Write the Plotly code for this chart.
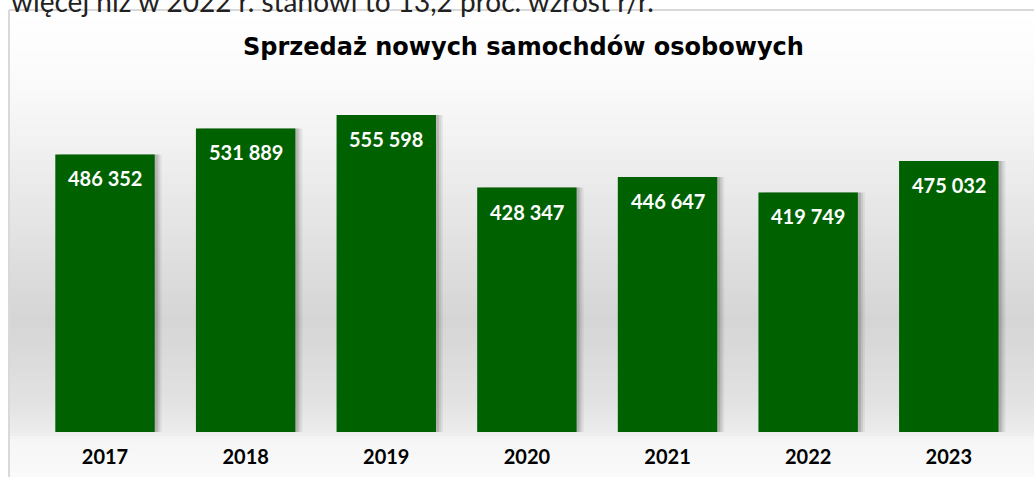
import plotly.graph_objects as go
import numpy as np

years = ["2017", "2018", "2019", "2020", "2021", "2022", "2023"]
sales = [486352, 531889, 555598, 428347, 446647, 419749, 475032]
title_text = "Sprzedaż nowych samochdów osobowych"
top_text = "więcej niż w 2022 r. stanowi to 13,2 proc. wzrost r/r."

W, H = 1034, 477
GREEN = "#006100"
BAR_W = 0.707

fig = go.Figure()

# soft shadow layers to the right of the bars
for off_px, alpha in [(7, 0.06), (5, 0.08), (3, 0.12)]:
    fig.add_trace(go.Bar(
        x=years, y=sales, width=BAR_W, offset=-BAR_W / 2 + off_px / 140.6,
        marker=dict(color=f"rgba(0,0,0,{alpha})", line=dict(width=0)),
        hoverinfo="skip", showlegend=False,
    ))

fig.add_trace(go.Bar(
    x=years, y=sales, width=BAR_W, offset=-BAR_W / 2,
    marker=dict(color=GREEN, line=dict(width=0)),
    showlegend=False,
))

annotations = []
for i, v in enumerate(sales):
    annotations.append(dict(
        x=i, y=v, xref="x", yref="y", yanchor="top", yshift=-10,
        text=f"{v:,}".replace(",", " "), showarrow=False,
        font=dict(family="Lato", size=20, color="white", weight="bold"),
    ))

annotations.append(dict(
    x=523 / W, y=1 - 47 / H, xref="paper", yref="paper",
    xanchor="center", yanchor="middle", text=f"<b>{title_text}</b>",
    showarrow=False, font=dict(family="DejaVu Sans", size=24, color="black"),
))
annotations.append(dict(
    x=9 / W, y=1 - 20 / H, xref="paper", yref="paper",
    xanchor="left", yanchor="bottom", text=top_text,
    showarrow=False, font=dict(family="Lato", size=28, color="#222222"),
))

# background gradient of the chart box
stops_y = [10, 60, 120, 200, 320, 400, 432, 440, 477]
stops_g = [255, 252, 245, 232, 213, 226, 236, 246, 250]
shapes = []
step = 3
for yy in range(10, H, step):
    g = int(round(np.interp(yy + step / 2, stops_y, stops_g)))
    shapes.append(dict(
        type="rect", xref="paper", yref="paper", layer="below",
        x0=9 / W, x1=1.0, y0=1 - (yy + step) / H, y1=1 - yy / H,
        fillcolor=f"rgb({g},{g},{g})", line=dict(width=0),
    ))
shapes.append(dict(type="line", xref="paper", yref="paper", layer="below",
                   x0=9 / W, x1=9 / W, y0=0, y1=1 - 10 / H,
                   line=dict(color="#d9d9d9", width=2)))
shapes.append(dict(type="line", xref="paper", yref="paper", layer="below",
                   x0=9 / W, x1=1.0, y0=1 - 10 / H, y1=1 - 10 / H,
                   line=dict(color="#d9d9d9", width=2)))

fig.update_layout(
    width=W, height=H,
    margin=dict(l=0, r=0, t=0, b=0, autoexpand=False),
    paper_bgcolor="white", plot_bgcolor="rgba(0,0,0,0)",
    barmode="overlay",
    xaxis=dict(type="category", domain=[34.7 / W, 1019.1 / W],
               range=[-0.5, len(years) - 0.5], autorange=False,
               showgrid=False, zeroline=False, showline=False, ticks="",
               ticklabelstandoff=11, automargin=False,
               tickfont=dict(family="Lato", size=20, color="black", weight="bold")),
    yaxis=dict(domain=[1 - 432 / H, 1 - 89.6 / H], range=[0, 600000],
               autorange=False, visible=False, showgrid=False, automargin=False),
    annotations=annotations,
    shapes=shapes,
)

fig.write_html("out.html", config={"displayModeBar": False},
               post_script="document.body.style.margin='0';")
